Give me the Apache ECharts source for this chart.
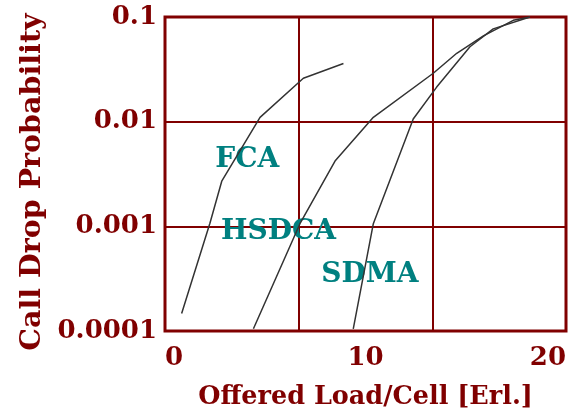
<!DOCTYPE html>
<html>
<head>
<meta charset="utf-8">
<script src="https://cdn.jsdelivr.net/npm/echarts@6/dist/echarts.min.js"></script>
<style>
html,body{margin:0;padding:0;background:#fff;}
#chart{width:585px;height:414px;}
</style>
</head>
<body>
<div id="chart"></div>
<script>
// Data
const fcaX   = [0.83, 2.24, 2.83, 4.74, 6.9, 8.9];
const fcaY   = [0.000147, 0.00107, 0.0027, 0.011, 0.026, 0.036];
const hsdcaX = [4.41, 6.73, 8.48, 10.39, 13.38, 14.55, 15.88, 17.37, 18.2];
const hsdcaY = [0.000105, 0.00106, 0.0042, 0.011, 0.029, 0.045, 0.066, 0.093, 0.1];
const sdmaX  = [9.39, 10.39, 12.38, 13.55, 15.21, 16.37, 18.2];
const sdmaY  = [0.000105, 0.00106, 0.0106, 0.0214, 0.052, 0.077, 0.1];
const labelNames = ['FCA', 'HSDCA', 'SDMA'];
const labelX = [4.1, 5.66, 10.22];
const labelY = [0.0043, 0.00088, 0.000343];
const yTickLabels = {'-4': '0.0001', '-3': '0.001', '-2': '0.01', '-1': '0.1'};
const xTitle = 'Offered Load/Cell [Erl.]';
const yTitle = 'Call Drop Probability';

const dark = '#800000';
const teal = '#008080';
const font = 'DejaVu Serif';

function pairs(xs, ys) { return xs.map((x, i) => [x, ys[i]]); }

const chart = echarts.init(document.getElementById('chart'), null, {renderer: 'canvas'});
const lineStyle = {color: '#333333', width: 1.5};
chart.setOption({
  animation: false,
  grid: {left: 165, right: 19, top: 17, bottom: 83, show: true, borderColor: dark, borderWidth: 3,
         backgroundColor: 'transparent', containLabel: false, outerBoundsMode: 'none'},
  xAxis: [
    {
      type: 'value', min: 0, max: 20, interval: 10,
      axisLine: {show: false}, axisTick: {show: false}, splitLine: {show: false},
      axisLabel: {color: dark, fontFamily: font, fontWeight: 'bold', fontSize: 26, margin: 14,
                  alignMinLabel: 'left', alignMaxLabel: 'right'},
      name: xTitle, nameLocation: 'middle', nameGap: 53,
      nameTextStyle: {color: dark, fontFamily: font, fontWeight: 'bold', fontSize: 25.5}
    },
    {
      type: 'value', min: 0, max: 20, interval: 20 / 3, position: 'bottom',
      axisLine: {show: false}, axisTick: {show: false}, axisLabel: {show: false},
      splitLine: {show: true, lineStyle: {color: dark, width: 2}}
    }
  ],
  yAxis: {
    type: 'log', logBase: 10, min: 0.0001, max: 0.1,
    axisLine: {show: false}, axisTick: {show: false},
    splitLine: {show: true, lineStyle: {color: dark, width: 2}},
    minorSplitLine: {show: false},
    axisLabel: {color: dark, fontFamily: font, fontWeight: 'bold', fontSize: 26, margin: 8,
                formatter: v => yTickLabels[String(Math.round(Math.log10(v)))] || ''},
    name: yTitle, nameLocation: 'middle', nameGap: 118, nameRotate: 90,
    nameTextStyle: {color: dark, fontFamily: font, fontWeight: 'bold', fontSize: 28.5, padding: [0, 16, 0, 0]}
  },
  series: [
    {
      type: 'scatter', symbolSize: 1, itemStyle: {color: 'rgba(0,0,0,0)', opacity: 1},
      data: labelNames.map((n, i) => [labelX[i], labelY[i], n]),
      label: {show: true, position: 'inside', formatter: p => p.data[2],
              color: teal, opacity: 1, fontFamily: font, fontWeight: 'bold', fontSize: 28},
      z: 1
    },
    {type: 'line', name: 'FCA', data: pairs(fcaX, fcaY), showSymbol: false, symbol: 'none', lineStyle: lineStyle, z: 3},
    {type: 'line', name: 'HSDCA', data: pairs(hsdcaX, hsdcaY), showSymbol: false, symbol: 'none', lineStyle: lineStyle, z: 3},
    {type: 'line', name: 'SDMA', data: pairs(sdmaX, sdmaY), showSymbol: false, symbol: 'none', lineStyle: lineStyle, z: 3}
  ]
});
</script>
</body>
</html>
